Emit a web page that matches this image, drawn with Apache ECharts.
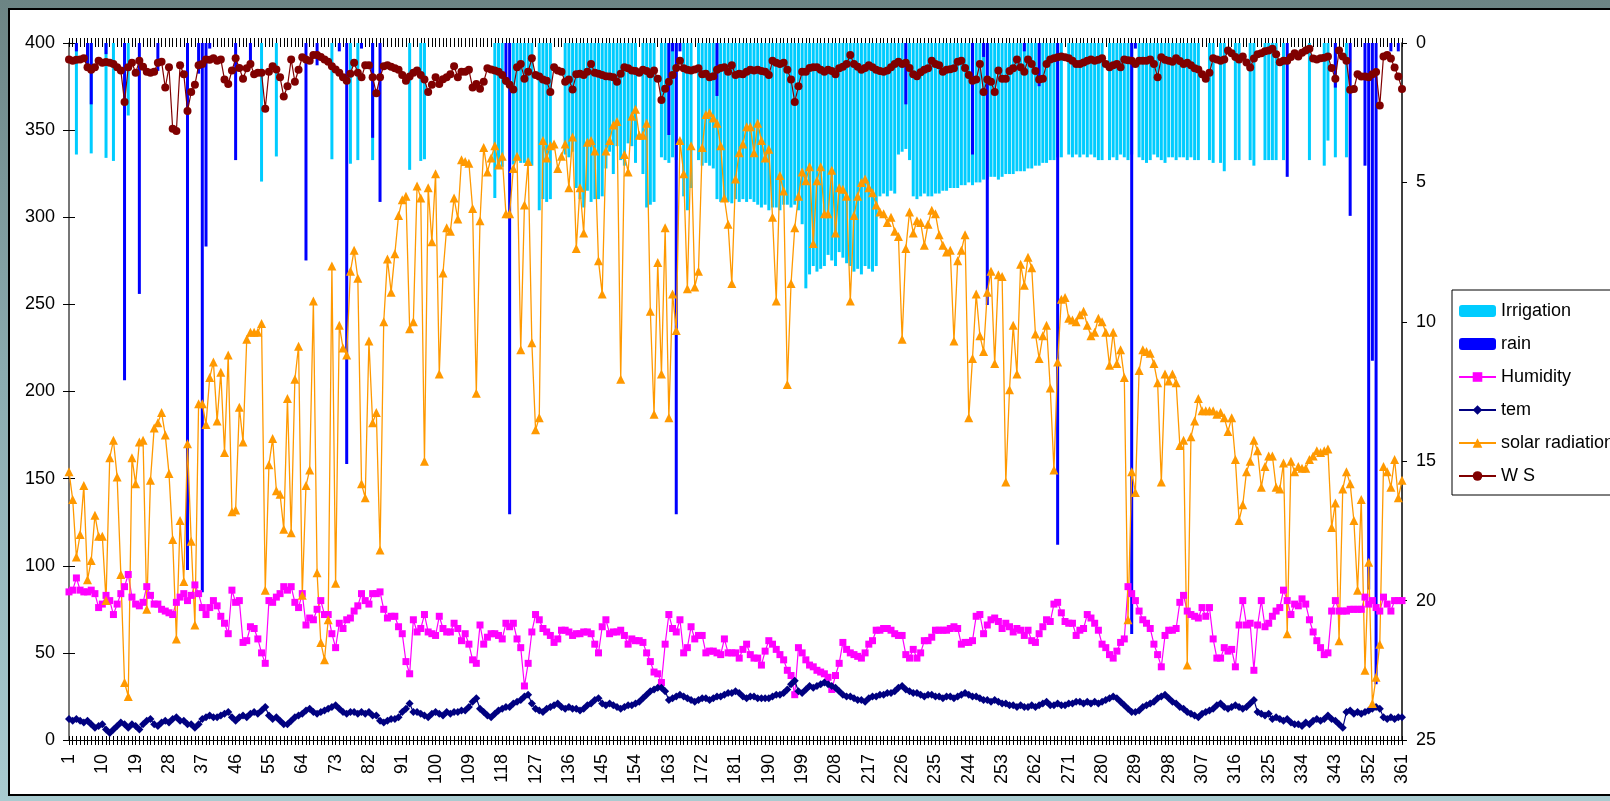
<!DOCTYPE html>
<html>
<head>
<meta charset="utf-8">
<script src="https://cdn.jsdelivr.net/npm/echarts@6/dist/echarts.min.js"></script>
<style>
  html, body { margin: 0; padding: 0; width: 1610px; height: 801px; overflow: hidden;
    background: linear-gradient(180deg, #6c8484 0%, #8aaaae 45%, #a9cbd0 100%); }
  #panel { position: absolute; left: 8px; top: 8px; width: 1640px; height: 788px;
    background: #fff; border: 2px solid #000; box-sizing: border-box; }
  #chart { position: absolute; left: 0; top: 0; width: 1610px; height: 801px; }
</style>
</head>
<body>
<div id="panel"></div>
<div id="chart"></div>
<script>
// Daily weather and water records, day 1 .. 361
const tem = [
  12,11,12,11,10,11,9,7,8,9,
  6,4,6,8,10,9,7,9,8,6,
  9,11,12,9,8,10,11,10,12,13,
  11,11,9,9,7,9,12,13,14,13,
  13,14,15,16,13,11,13,14,13,15,
  16,15,17,19,14,12,13,11,9,9,
  11,13,14,15,17,18,16,15,16,17,
  18,19,20,18,16,15,16,16,15,16,
  15,16,14,14,11,10,11,12,12,13,
  16,18,21,16,16,15,14,13,15,16,
  15,14,16,15,16,16,17,17,19,22,
  24,18,16,14,13,15,17,18,19,19,
  21,22,23,25,26,21,18,17,16,18,
  19,20,21,19,18,19,18,18,17,18,
  20,21,23,24,21,20,21,20,19,18,
  19,20,20,21,22,24,26,28,29,30,
  30,28,23,24,25,26,25,24,23,22,
  23,24,24,23,24,25,25,26,27,27,
  28,27,25,24,25,25,24,24,24,24,
  25,26,26,27,29,32,34,28,27,29,
  31,30,31,32,33,32,31,30,28,26,
  25,25,24,23,23,22,24,25,25,26,
  26,27,27,28,30,31,29,28,27,27,
  26,25,26,26,25,25,24,25,25,24,
  25,26,27,26,25,25,24,23,23,22,
  23,22,21,21,20,20,19,20,19,19,
  20,19,20,21,22,20,20,21,20,20,
  21,21,22,22,21,22,21,22,21,22,
  23,24,25,24,22,20,18,16,16,17,
  19,20,21,22,24,25,26,24,22,21,
  19,18,16,15,14,13,15,16,17,18,
  20,21,19,18,19,20,19,18,19,21,
  23,16,15,14,15,12,13,12,11,12,
  10,9,9,8,10,9,11,12,11,12,
  14,12,11,9,7,16,17,15,16,15,
  16,17,18,19,18,13,12,13,12,13,13
];

const humidity = [
  85,86,93,86,85,85,86,84,76,78,
  83,80,72,78,84,88,95,82,78,77,
  79,88,83,78,78,75,74,73,72,79,
  82,84,80,83,89,84,76,72,76,80,
  77,71,67,61,86,79,80,56,57,65,
  64,58,50,44,80,79,82,84,88,86,
  88,79,76,84,66,70,69,75,80,72,
  72,61,53,67,64,69,70,74,77,84,
  80,78,84,84,85,75,70,71,71,65,
  61,45,38,69,62,64,72,62,61,60,
  71,64,62,62,67,64,57,61,55,46,
  44,66,55,59,61,61,60,58,67,65,
  67,58,53,31,44,62,72,69,64,62,
  60,56,58,63,63,62,60,61,61,62,
  62,61,55,50,65,69,61,62,62,63,
  60,55,58,57,57,56,50,45,39,38,
  33,55,72,64,62,69,50,53,65,58,
  60,60,50,51,51,50,49,58,50,50,
  50,47,52,55,49,47,47,43,51,57,
  55,52,49,46,40,37,26,53,50,46,
  43,42,40,39,38,36,29,37,44,56,
  52,50,49,48,47,50,55,57,63,63,
  64,64,63,61,60,60,49,47,52,47,
  50,57,57,59,63,63,63,63,64,65,
  64,55,56,56,57,71,72,61,66,69,
  70,68,64,67,65,62,64,63,60,63,
  57,56,61,65,69,68,78,79,73,68,
  67,67,60,63,64,72,70,67,63,55,
  53,49,47,51,56,58,88,84,80,74,
  69,67,64,55,49,42,60,63,63,64,
  79,83,74,72,71,70,76,71,76,58,
  47,47,53,51,52,42,66,80,66,67,
  40,66,80,65,67,71,74,76,86,80,
  72,78,77,81,78,69,62,57,53,49,
  50,74,80,74,74,74,75,75,75,75,
  82,78,80,76,74,82,78,74,80,80,80
];

const solarRadiation = [
  154,138,105,118,146,92,103,129,117,117,
  80,162,172,151,95,33,25,162,147,171,
  172,75,149,179,182,188,175,153,115,58,
  126,91,170,114,66,193,193,181,208,217,
  183,211,165,221,131,132,191,171,230,234,
  234,234,239,86,158,173,143,141,121,196,
  119,207,226,83,146,155,252,96,56,46,
  69,272,90,238,225,221,269,281,265,147,
  139,229,182,188,109,240,276,257,279,301,
  310,312,236,240,318,311,160,317,286,325,
  210,268,294,292,311,299,333,332,331,305,
  199,298,340,326,334,341,330,335,302,302,
  328,335,224,307,332,228,178,185,344,334,
  341,342,328,335,342,317,346,282,317,291,
  343,344,338,275,256,338,344,353,355,207,
  336,326,358,362,347,347,354,246,187,274,
  210,294,185,256,235,344,325,259,341,260,
  269,340,359,360,357,354,341,311,296,262,
  322,337,342,352,352,337,354,344,334,339,
  300,252,324,315,204,262,294,312,326,321,
  329,285,321,329,302,302,327,291,317,316,
  312,252,301,312,320,322,317,314,307,303,
  302,297,300,292,289,230,282,303,291,298,
  297,284,296,304,302,290,284,280,281,229,
  275,281,290,185,219,256,232,223,257,269,
  216,267,266,148,201,238,210,273,261,277,
  271,233,219,232,238,202,155,217,253,254,
  242,241,240,244,246,238,232,234,242,240,
  234,215,234,216,224,208,69,154,142,212,
  224,223,222,216,205,148,210,206,210,205,
  169,172,43,174,183,196,189,189,189,189,
  187,188,185,177,185,161,126,135,154,160,
  172,166,145,157,163,163,145,144,159,61,
  160,154,157,156,156,161,163,166,165,166,
  167,122,136,57,144,154,147,126,86,138,
  40,102,21,36,55,157,154,145,161,139,149
];

const windSpeed = [
  0.59,0.64,0.6,0.59,0.55,0.87,0.96,0.87,0.64,0.71,
  0.68,0.71,0.75,0.87,0.99,2.12,0.87,0.71,1.07,0.64,
  0.85,1.03,1.07,1.03,0.71,0.67,1.6,0.87,3.08,3.16,
  0.8,1.12,2.44,1.76,1.5,0.8,0.75,0.59,0.6,0.55,
  0.64,0.59,1.31,1.47,0.99,0.55,0.9,1.28,0.91,0.75,
  1.12,1.07,1.07,2.36,1.03,0.83,0.95,1.23,1.92,1.55,
  0.59,1.39,0.96,0.51,0.59,0.64,0.43,0.43,0.5,0.59,
  0.67,0.83,0.95,1.07,1.23,1.35,1.1,0.71,1.07,1.23,
  0.8,0.8,1.23,1.8,1.23,0.83,0.8,0.85,0.91,0.96,
  1.15,1.35,1.2,1.07,0.99,1.15,1.31,1.76,1.5,1.23,
  1.47,1.3,1.23,1.12,0.83,1.23,1.03,1.03,0.96,1.6,
  1.47,1.64,1.39,0.91,0.95,0.99,1.03,1.15,1.35,1.5,
  1.67,0.87,0.75,1.28,1.03,0.55,1.15,1.2,1.31,1.35,
  1.76,0.87,0.99,1.03,1.39,1.31,1.67,1.12,1.1,1.15,
  1.03,0.75,1.07,1.1,1.15,1.19,1.2,1.23,1.39,1.1,
  0.87,0.91,0.99,1.0,1.07,0.96,1.0,1.12,0.99,1.28,
  2.04,1.64,1.39,1.15,0.9,0.64,0.91,0.96,0.99,0.95,
  0.91,1.12,1.1,1.23,1.19,0.96,0.9,0.87,1.03,0.8,
  1.15,1.1,1.12,1.03,0.96,0.99,0.96,1.0,1.03,1.15,
  0.64,0.71,0.75,0.71,0.96,1.31,2.12,1.55,1.03,1.03,
  0.9,0.87,0.87,0.96,1.03,0.96,1.0,1.12,0.91,0.85,
  0.75,0.43,0.75,0.85,0.96,0.9,0.8,0.87,0.96,1.0,
  1.03,0.99,0.87,0.75,0.67,0.75,0.71,0.9,1.12,1.19,
  1.05,0.96,0.91,0.64,0.75,0.8,1.03,0.96,0.94,0.91,
  0.67,0.64,0.9,1.15,1.35,1.31,0.75,1.76,1.31,1.39,
  1.76,0.99,1.28,1.28,1.0,0.91,0.59,0.87,1.03,0.59,
  0.75,1.0,1.31,1.28,0.75,0.59,0.55,0.51,0.48,0.51,
  0.55,0.64,0.75,0.75,0.7,0.64,0.59,0.64,0.6,0.55,
  0.75,0.87,0.8,0.75,0.87,0.59,0.62,0.64,0.75,0.64,
  0.64,0.64,0.59,0.75,1.23,0.51,0.6,0.64,0.67,0.55,
  0.65,0.75,0.71,0.8,0.91,0.95,1.12,1.28,1.07,0.55,
  0.59,0.64,0.59,0.27,0.37,0.5,0.59,0.48,0.7,0.88,
  0.56,0.4,0.37,0.3,0.27,0.21,0.4,0.69,0.64,0.64,
  0.5,0.37,0.48,0.35,0.27,0.21,0.56,0.59,0.55,0.53,
  0.48,0.9,1.28,0.27,0.48,0.64,1.68,1.65,1.12,1.2,
  1.2,1.23,1.12,1.04,2.24,0.48,0.43,0.56,0.88,1.2,1.65
];

const irrigation = [
  0,0,4.0,0,0,0,3.96,0,0,0,
  4.12,0,4.23,0,0,0,2.6,0,0,0,
  0,0,0,0,0,0,0,0,0,0,
  0,0,0,0,0,0,0,0,0,0,
  0,0,0,0,0,0,0,0,0,0,
  0,0,4.97,0,0,0,4.07,0,0,0,
  0,0,0,0,0,0,0,0,0,0,
  0,4.17,0,0,0,0,4.33,0,4.2,0,
  0,0,4.2,0,0,0,0,0,0,0,
  0,0,4.55,0,0,4.23,4.17,0,0,0,
  0,0,0,0,0,0,0,0,0,0,
  0,0,0,0,0,5.56,4.44,4.44,0,0,
  4.36,4.2,4.3,4.3,4.2,4.4,0,6.0,5.6,5.7,
  5.6,0,0,0,4.0,4.1,3.9,5.2,5.6,5.9,
  5.3,5.7,5.6,5.6,5.5,4.5,3.9,4.7,3.7,4.2,
  4.4,3.6,3.7,4.3,0,4.7,5.9,5.8,5.7,0,
  4.1,4.2,4.3,4.1,4.2,0,5.5,6.0,5.2,0,
  4.2,4.4,4.3,4.4,4.5,5.6,5.7,5.6,5.7,5.75,
  5.6,5.7,5.6,5.7,5.6,5.7,5.8,5.9,5.8,6.0,
  5.9,5.9,6.0,5.8,5.8,5.9,5.8,6.0,6.5,8.8,
  8.3,8.0,8.2,8.1,8.0,7.6,7.8,8.0,7.5,7.7,
  7.9,8.0,8.2,8.1,8.3,8.0,8.1,8.2,8.0,5.5,
  5.4,5.5,5.3,5.4,4.0,3.9,3.8,4.2,5.5,5.6,
  5.5,5.4,5.5,5.5,5.4,5.4,5.3,5.3,5.2,5.2,
  5.2,5.1,5.1,5.0,5.1,5.0,5.0,4.9,4.9,4.8,
  4.8,4.9,4.8,4.7,4.7,4.7,4.6,4.6,4.6,4.5,
  4.5,4.4,4.4,4.3,4.3,4.2,4.2,4.1,4.1,0,
  4.0,4.1,4.0,4.1,4.0,4.1,4.0,4.1,4.2,4.2,
  0,4.2,4.1,4.2,4.0,4.1,4.2,4.0,0,4.1,
  4.2,4.3,4.2,4.0,4.1,4.2,4.3,4.1,4.1,4.2,
  4.1,4.1,4.2,4.1,4.2,4.2,0,0,4.2,4.3,
  0,4.3,4.6,0,0,4.2,4.2,0,0,4.2,
  4.4,0,0,4.2,4.2,4.2,4.2,0,4.2,0,
  0,0,0,0,0,4.2,0,0,0,4.4,
  3.5,0,4.1,0,0,4.1,0,0,0,0,
  0,0,0,0,0,0,0,0,0,0,0
];

// Rain falls on few days: day number and amount (mm)
const rainDay = [3,6,7,11,16,20,25,33,36,37,38,39,46,50,65,68,74,76,80,83,85,119,120,163,164,165,166,176,227,245,248,249,259,263,268,288,289,330,343,347,351,352,353,354,358,360];
const rainMm  = [0.3,0.8,2.2,0.4,12.1,9.0,1.0,18.9,1.1,19.7,7.3,0.2,4.2,0.8,7.8,0.8,0.3,15.1,0.2,3.4,5.7,1.5,16.9,3.3,0.3,16.9,0.3,1.9,2.2,4.0,0.5,9.4,0.3,1.55,18.0,21.2,0.2,4.8,1.6,6.2,4.4,19.6,11.4,23.0,0.3,0.3];

const dayLabels = tem.map((_, i) => String(i + 1));
const rain = dayLabels.map(() => null);
rainDay.forEach((d, i) => { rain[d - 1] = rainMm[i]; });
const irrigationBars = irrigation.map(v => (v > 0 ? v : null));

const FONT = 'Liberation Sans';
const tickStyle = { color: '#000', width: 1 };

function catAxis(extra) {
  return Object.assign({
    type: 'category', data: dayLabels, boundaryGap: false,
    axisLine: { show: false }, axisLabel: { show: false },
    splitLine: { show: false }
  }, extra);
}

const chart = echarts.init(document.getElementById('chart'), null, { renderer: 'canvas' });
chart.setOption({
  animation: false,
  backgroundColor: 'transparent',
  textStyle: { fontFamily: FONT },
  grid: { left: 69, right: 208, top: 43, bottom: 61, containLabel: false },
  legend: {
    orient: 'vertical', left: 1452, top: 290,
    data: ['Irrigation', 'rain', 'Humidity', 'tem', 'solar radiation', 'W S'],
    itemWidth: 37, itemHeight: 12, itemGap: 15,
    padding: [12, 12, 10, 6],
    borderColor: '#000', borderWidth: 1, backgroundColor: '#fff', borderRadius: 0,
    textStyle: { fontSize: 18, fontFamily: FONT, color: '#000', lineHeight: 18 },
    selectedMode: false
  },
  xAxis: [
    catAxis({
      position: 'bottom',
      axisLine: { show: true, lineStyle: { color: '#000', width: 1 } },
      axisTick: { show: true, interval: 0, length: 5, lineStyle: tickStyle },
      axisLabel: { show: true, interval: 8, rotate: 90, fontSize: 18, fontFamily: FONT, color: '#000', margin: 14 }
    }),
    catAxis({ position: 'bottom', axisTick: { show: true, inside: true, interval: 0, length: 5, lineStyle: tickStyle } }),
    catAxis({
      position: 'top',
      axisLine: { show: true, lineStyle: { color: '#000', width: 1 } },
      axisTick: { show: true, interval: 0, length: 4, lineStyle: tickStyle }
    }),
    catAxis({ position: 'top', axisTick: { show: true, inside: true, interval: 0, length: 4, lineStyle: tickStyle } })
  ],
  yAxis: [
    {
      type: 'value', min: 0, max: 400, interval: 50, position: 'left',
      axisLine: { show: true, lineStyle: { color: '#4a4a4a', width: 1.5 } },
      axisTick: { show: true, length: 6, lineStyle: tickStyle },
      axisLabel: { fontSize: 18, fontFamily: FONT, color: '#000', margin: 14 },
      splitLine: { show: false }
    },
    {
      type: 'value', min: 0, max: 25, interval: 5, inverse: true, position: 'right',
      axisLine: { show: true, lineStyle: { color: '#000', width: 1.5 } },
      axisTick: { show: true, length: 5, lineStyle: tickStyle },
      axisLabel: { fontSize: 18, fontFamily: FONT, color: '#000', margin: 14 },
      splitLine: { show: false }
    },
    {
      type: 'value', min: 0, max: 400, interval: 50, position: 'left',
      axisLine: { show: false },
      axisTick: { show: true, inside: true, length: 6, lineStyle: tickStyle },
      axisLabel: { show: false }, splitLine: { show: false }
    }
  ],
  series: [
    {
      name: 'Irrigation', type: 'bar', yAxisIndex: 1, data: irrigationBars,
      barWidth: 3, barGap: '-100%', itemStyle: { color: '#00CCFF' }, silent: true
    },
    {
      name: 'rain', type: 'bar', yAxisIndex: 1, data: rain,
      barWidth: 3, barGap: '-100%', itemStyle: { color: '#0000FF' }, silent: true
    },
    {
      name: 'Humidity', type: 'line', data: humidity,
      symbol: 'rect', symbolSize: 7, showAllSymbol: true,
      lineStyle: { color: '#FF00FF', width: 1.2 }, itemStyle: { color: '#FF00FF' }, silent: true
    },
    {
      name: 'tem', type: 'line', data: tem,
      symbol: 'diamond', symbolSize: 8, showAllSymbol: true,
      lineStyle: { color: '#000080', width: 1.2 }, itemStyle: { color: '#000080' }, silent: true
    },
    {
      name: 'solar radiation', type: 'line', data: solarRadiation,
      symbol: 'triangle', symbolSize: 9, showAllSymbol: true,
      lineStyle: { color: '#FF9900', width: 1.3 }, itemStyle: { color: '#FF9900' }, silent: true
    },
    {
      name: 'W S', type: 'line', yAxisIndex: 1, data: windSpeed,
      symbol: 'circle', symbolSize: 8, showAllSymbol: true,
      lineStyle: { color: '#800000', width: 1.2 }, itemStyle: { color: '#800000' }, silent: true
    }
  ]
});
</script>
</body>
</html>
